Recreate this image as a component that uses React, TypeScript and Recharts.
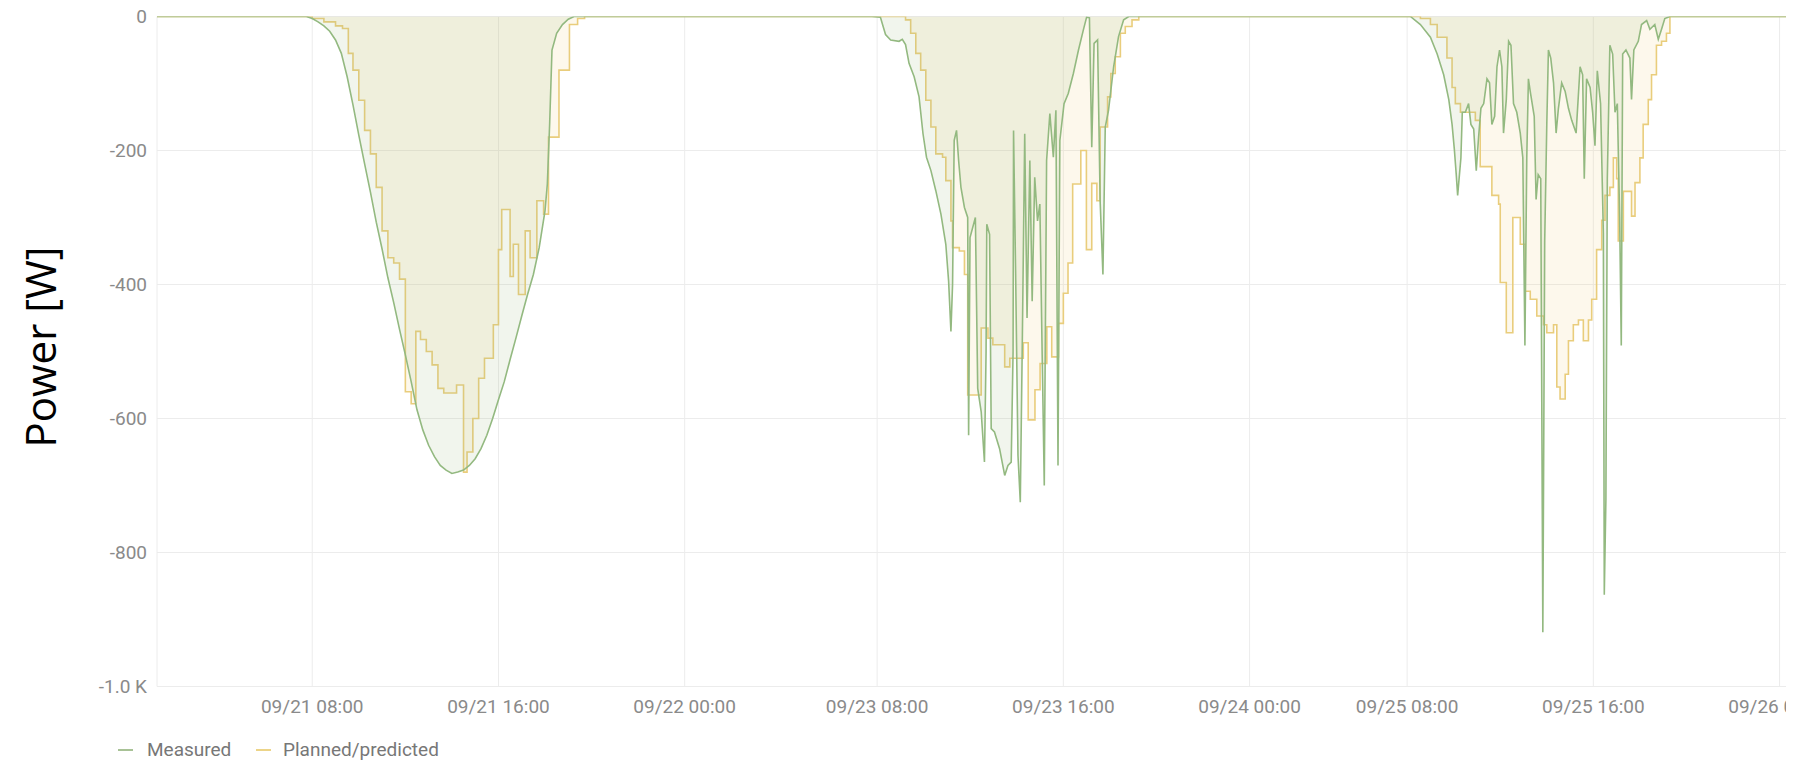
import { ComposedChart, Area, XAxis, YAxis, CartesianGrid } from 'recharts';

// Hours of each day: [hour, watts]
const day1Measured = [
  [7.5, 0], [7.75, 0], [8.0, -3], [8.25, -8], [8.5, -14], [8.75, -22], [9.0, -35], [9.25, -55],
  [9.5, -90], [9.75, -132], [10.0, -177], [10.25, -220], [10.5, -262], [10.75, -307], [11.0, -347],
  [11.25, -390], [11.5, -427], [11.75, -467], [12.0, -505], [12.25, -545], [12.5, -587], [12.75, -617],
  [13.0, -640], [13.25, -657], [13.5, -670], [13.75, -677], [14.0, -682], [14.25, -680], [14.5, -677],
  [14.75, -670], [15.0, -660], [15.25, -645], [15.5, -625], [15.75, -600], [16.0, -572], [16.25, -545],
  [16.5, -512], [16.75, -480], [17.0, -447], [17.25, -415], [17.5, -385], [17.75, -345], [18.0, -290],
  [18.1, -250], [18.2, -160], [18.3, -50], [18.5, -25], [18.75, -12], [19.0, -4], [19.25, 0],
];

const day1Planned = [
  [7.7, 0], [8.0, -3], [8.5, -8], [9.0, -14], [9.3, -18], [9.55, -55], [9.75, -80], [10.0, -125],
  [10.25, -170], [10.5, -205], [10.75, -255], [11.0, -320], [11.25, -360], [11.5, -368], [11.75, -392],
  [12.0, -560], [12.25, -578], [12.45, -470], [12.65, -482], [12.9, -500], [13.15, -520], [13.4, -555],
  [13.65, -562], [14.2, -550], [14.5, -680], [14.65, -650], [14.9, -600], [15.15, -540], [15.4, -510],
  [15.78, -460], [16.0, -348], [16.14, -288], [16.5, -388], [16.64, -340], [16.86, -415], [17.15, -320],
  [17.36, -360], [17.65, -275], [17.94, -295], [18.15, -180], [18.6, -80], [19.05, -12], [19.4, -3],
  [19.7, 0],
];

const day2Measured = [
  [7.78, 0], [8.14, -1], [8.36, -27], [8.58, -35], [8.94, -37], [9.08, -34], [9.22, -42], [9.37, -70],
  [9.59, -90], [9.8, -120], [9.97, -175], [10.12, -210], [10.31, -230], [10.52, -260], [10.74, -295],
  [10.95, -340], [11.07, -395], [11.17, -470], [11.24, -400], [11.31, -185], [11.41, -170], [11.5, -215],
  [11.6, -255], [11.75, -285], [11.89, -300], [11.93, -625], [11.99, -330], [12.22, -300], [12.32, -555],
  [12.47, -590], [12.61, -665], [12.68, -500], [12.71, -310], [12.83, -325], [12.9, -615], [13.04, -620],
  [13.26, -645], [13.48, -685], [13.62, -670], [13.76, -665], [13.84, -500], [13.86, -170], [13.95, -385],
  [14.05, -655], [14.15, -725], [14.24, -475], [14.34, -175], [14.44, -450], [14.56, -215], [14.66, -425],
  [14.77, -240], [14.89, -305], [14.99, -280], [15.09, -505], [15.18, -700], [15.28, -215], [15.42, -145],
  [15.57, -210], [15.68, -140], [15.77, -670], [15.85, -185], [16.03, -130], [16.21, -115], [16.43, -85],
  [16.65, -50], [16.86, -20], [17.0, -1], [17.12, -2], [17.22, -195], [17.32, -40], [17.47, -35],
  [17.58, -275], [17.7, -385], [17.8, -165], [17.94, -140], [18.16, -75], [18.37, -30], [18.59, -5],
  [18.81, 0],
];

const day2Planned = [
  [9.1, 0], [9.22, -5], [9.44, -25], [9.66, -55], [9.87, -80], [10.09, -125], [10.31, -165], [10.52, -205],
  [10.81, -210], [10.95, -245], [11.17, -305], [11.24, -345], [11.53, -350], [11.75, -385], [11.89, -565],
  [12.47, -465], [12.76, -480], [12.97, -490], [13.48, -523], [13.7, -510], [14.28, -487], [14.49, -602],
  [14.78, -557], [15.0, -518], [15.29, -463], [15.5, -508], [15.79, -458], [16.0, -413], [16.2, -368],
  [16.4, -250], [16.75, -200], [16.99, -348], [17.22, -249], [17.44, -275], [17.58, -165], [17.9, -120],
  [18.04, -85], [18.23, -60], [18.45, -25], [18.66, -15], [18.95, -5], [19.24, 0],
];

const day3Measured = [
  [8.14, 0], [8.57, -12], [9.0, -31], [9.29, -56], [9.57, -87], [9.79, -124], [9.93, -161], [10.03, -199],
  [10.11, -236], [10.17, -267], [10.31, -211], [10.37, -143], [10.5, -143], [10.64, -130], [10.74, -161],
  [10.86, -168], [10.97, -230], [11.07, -180], [11.17, -137], [11.29, -130], [11.43, -93], [11.54, -99],
  [11.64, -161], [11.76, -149], [11.86, -75], [11.97, -50], [12.07, -75], [12.14, -174], [12.26, -124],
  [12.36, -37], [12.46, -43], [12.57, -130], [12.71, -143], [12.86, -174], [12.97, -211], [13.06, -491],
  [13.14, -211], [13.21, -93], [13.29, -112], [13.46, -149], [13.54, -273], [13.63, -236], [13.74, -242],
  [13.83, -919], [13.91, -335], [14.0, -161], [14.07, -50], [14.17, -62], [14.29, -99], [14.4, -174],
  [14.5, -137], [14.64, -99], [14.79, -112], [14.93, -137], [15.07, -155], [15.26, -174], [15.43, -75],
  [15.54, -87], [15.61, -242], [15.71, -93], [15.86, -106], [15.97, -143], [16.07, -193], [16.17, -81],
  [16.31, -130], [16.43, -323], [16.47, -863], [16.54, -720], [16.6, -242], [16.71, -43], [16.83, -56],
  [16.93, -143], [17.03, -130], [17.13, -300], [17.2, -491], [17.26, -56], [17.4, -50], [17.57, -62],
  [17.64, -124], [17.74, -50], [17.93, -37], [18.07, -12], [18.29, -6], [18.43, -19], [18.64, -12],
  [18.79, -34], [18.93, -19], [19.07, -3], [19.29, 0],
];

const day3Planned = [
  [8.3, 0], [8.57, -3], [9.0, -12], [9.29, -31], [9.71, -62], [9.93, -106], [10.07, -130], [10.29, -143],
  [10.93, -155], [11.14, -224], [11.64, -267], [11.93, -280], [12.0, -397], [12.26, -472], [12.54, -300],
  [12.86, -340], [13.07, -410], [13.29, -422], [13.57, -447], [13.86, -460], [14.0, -472], [14.29, -460],
  [14.43, -553], [14.57, -571], [14.79, -534], [14.93, -484], [15.14, -460], [15.36, -453], [15.57, -484],
  [15.79, -453], [15.93, -422], [16.14, -348], [16.36, -304], [16.5, -267], [16.71, -255], [16.86, -211],
  [17.0, -242], [17.07, -335], [17.29, -261], [17.64, -298], [17.79, -248], [18.0, -211], [18.14, -161],
  [18.36, -124], [18.5, -87], [18.71, -43], [18.93, -37], [19.14, -25], [19.29, 0],
];

// the time axis skips the nights, so each day gets its own offset
const dayOffsets = [0, 24.27, 47.04];
const xDomain = [1.33, 71.36];
const xTickHours = [8, 16, 24, 32.27, 40.27, 48.27, 55.04, 63.04, 71.04];
const xTickLabels = [
  '09/21 08:00', '09/21 16:00', '09/22 00:00', '09/23 08:00', '09/23 16:00',
  '09/24 00:00', '09/25 08:00', '09/25 16:00', '09/26 00:00',
];
const yTicks = [0, -200, -400, -600, -800, -1000];

type Row = { t: number; measured?: number; planned?: number };

function buildRows(): Row[] {
  const rows = new Map<number, Row>();
  const put = (t: number, key: 'measured' | 'planned', w: number) => {
    const k = Math.round(t * 1000) / 1000;
    const row = rows.get(k) ?? { t: k };
    row[key] = w;
    rows.set(k, row);
  };
  const series: [number[][][], 'measured' | 'planned'][] = [
    [[day1Measured, day2Measured, day3Measured], 'measured'],
    [[day1Planned, day2Planned, day3Planned], 'planned'],
  ];
  for (const [days, key] of series) {
    put(xDomain[0], key, 0);
    days.forEach((pts, i) => pts.forEach(([h, w]) => put(h + dayOffsets[i], key, w)));
    put(xDomain[1], key, 0);
  }
  return [...rows.values()].sort((a, b) => a.t - b.t);
}

const rows = buildRows();

const tickStyle = { fill: '#8a8a8a', fontSize: 19, fontFamily: 'Roboto, sans-serif' };

const GREEN = '#93b980';
const YELLOW = '#e9cd7c';

export default function App() {
  return (
    <div style={{ position: 'absolute', left: 0, top: 0, width: 1786, height: 763, overflow: 'hidden', background: '#fff' }}>
      <ComposedChart
        width={1810}
        height={763}
        data={rows}
        margin={{ top: 16.5, right: 23, bottom: 46.5, left: 0 }}
      >
        <CartesianGrid stroke="#ececec" strokeWidth={1} />
        <XAxis
          type="number"
          dataKey="t"
          domain={xDomain}
          allowDataOverflow
          ticks={xTickHours}
          interval={0}
          tickFormatter={(v: number) => xTickLabels[xTickHours.indexOf(v)] ?? ''}
          axisLine={false}
          tickLine={false}
          tickMargin={7.5}
          height={30}
          tick={tickStyle}
        />
        <YAxis
          type="number"
          domain={[-1000, 0]}
          allowDataOverflow
          ticks={yTicks}
          interval={0}
          tickFormatter={(v: number) => (v === -1000 ? '-1.0 K' : String(v))}
          axisLine={false}
          tickLine={false}
          tickMargin={4}
          width={157}
          tick={tickStyle}
          label={{
            content: () => (
              <text
                x={39}
                y={347}
                transform="rotate(-90, 39, 347)"
                textAnchor="middle"
                dominantBaseline="central"
                fill="#000"
                fontSize={42}
                fontFamily="'Open Sans', sans-serif"
              >
                Power [W]
              </text>
            ),
          }}
        />
        <Area
          type="stepAfter"
          dataKey="planned"
          name="Planned/predicted"
          baseValue={0}
          connectNulls
          stroke={YELLOW}
          strokeWidth={1.6}
          fill="#f0c860"
          fillOpacity={0.12}
          dot={false}
          activeDot={false}
          isAnimationActive={false}
        />
        <Area
          type="linear"
          dataKey="measured"
          name="Measured"
          baseValue={0}
          connectNulls
          stroke={GREEN}
          strokeWidth={1.6}
          fill="#9ab87e"
          fillOpacity={0.14}
          dot={false}
          activeDot={false}
          isAnimationActive={false}
        />
      </ComposedChart>
      <div style={{ position: 'absolute', left: 0, top: 738, height: 24, width: 600, fontFamily: 'Roboto, sans-serif', fontSize: 19, color: '#777' }}>
        <div style={{ position: 'absolute', left: 118, top: 11, width: 15, height: 2, background: '#a8c296' }} />
        <div style={{ position: 'absolute', left: 147, top: 0, lineHeight: '24px' }}>Measured</div>
        <div style={{ position: 'absolute', left: 256, top: 11, width: 15, height: 2, background: '#ecd488' }} />
        <div style={{ position: 'absolute', left: 283, top: 0, lineHeight: '24px' }}>Planned/predicted</div>
      </div>
    </div>
  );
}
